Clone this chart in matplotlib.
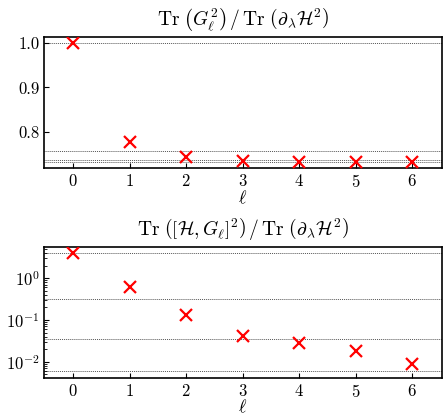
import matplotlib
matplotlib.use("Agg")
import matplotlib.pyplot as plt
import numpy as np

plt.rcParams['mathtext.fontset'] = 'cm'
plt.rcParams['font.family'] = 'serif'
plt.rcParams['font.serif'] = ['cmr10', 'DejaVu Serif']
plt.rcParams['axes.formatter.use_mathtext'] = True

ell = [0, 1, 2, 3, 4, 5, 6]
ratio_G2 = [1.0, 0.7764, 0.742, 0.7334, 0.731, 0.731, 0.7305]
ref_G2 = [1.0, 0.757, 0.7357, 0.7305]
ratio_comm = [3.94, 0.61, 0.134, 0.0407, 0.0283, 0.0179, 0.00896]
ref_comm = [4.07, 0.316, 0.0353, 0.00597]

fig = plt.figure(figsize=(4.44, 4.15), dpi=100)
ax1 = fig.add_axes([0.0998, 0.595, 0.895, 0.316])
ax2 = fig.add_axes([0.0998, 0.0900, 0.895, 0.3155])

for ax, y, refs in [(ax1, ratio_G2, ref_G2), (ax2, ratio_comm, ref_comm)]:
    for r in refs:
        ax.axhline(r, color='#555555', ls=(0, (1, 1)), lw=0.7, zorder=1)
    ax.plot(ell, y, 'x', color='red', ms=9, mew=1.6, zorder=3)
    ax.set_xlim(-0.51, 6.52)
    ax.set_xticks(ell)
    ax.tick_params(direction='in', labelsize=12, top=False, right=False)
    ax.tick_params(which='minor', direction='in')
    ax.set_xlabel(r'$\ell$', fontsize=13, labelpad=-1)
    for s in ax.spines.values():
        s.set_linewidth(1.2)

ax1.set_ylim(0.7175, 1.0143)
ax1.set_yticks([0.8, 0.9, 1.0])
ax1.set_yticklabels(['0.8', '0.9', '1.0'])
ax1.set_title(r'$\mathrm{Tr}\ \left(G_\ell^2\right)\,/\,\mathrm{Tr}\ \left(\partial_\lambda\mathcal{H}^2\right)$',
              fontsize=14, pad=8)

ax2.set_yscale('log')
ax2.set_ylim(0.00416, 5.65)
ax2.set_yticks([1e-2, 1e-1, 1e0])
ax2.set_title(r'$\mathrm{Tr}\ \left(\left[\mathcal{H},G_\ell\right]^2\right)\,/\,\mathrm{Tr}\ \left(\partial_\lambda\mathcal{H}^2\right)$',
              fontsize=14, pad=8)

fig.savefig('out.png', dpi=100)
